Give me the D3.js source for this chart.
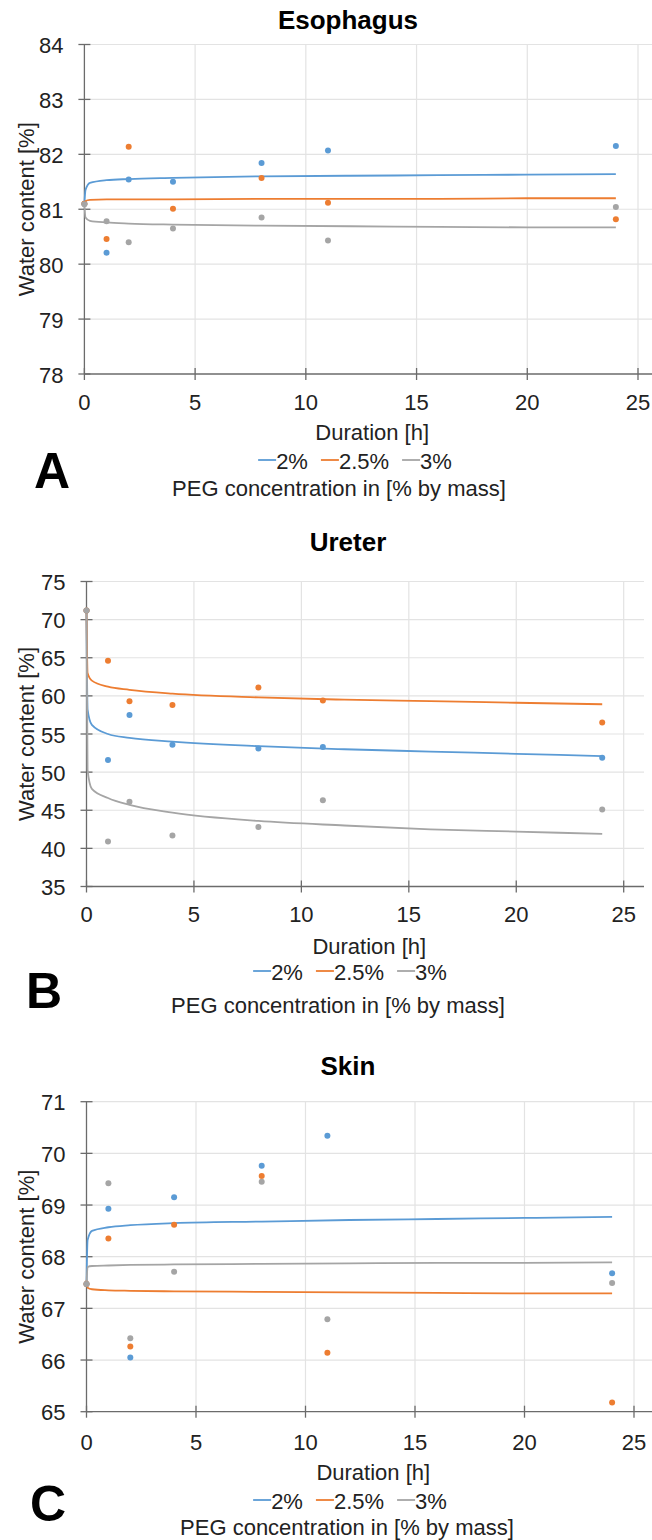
<!DOCTYPE html>
<html>
<head>
<meta charset="utf-8">
<script src="https://cdn.jsdelivr.net/npm/d3@7"></script>
<style>
  body { margin: 0; background: #fff; }
  svg { display: block; font-family: "Liberation Sans", Arial, sans-serif; }
</style>
</head>
<body>
<script>
// DATA
var hours = [0, 1, 2, 4, 8, 11, 24];
var hourTicks = [0, 5, 10, 15, 20, 25];
var fitHours = [0, 0.05, 0.25, 1, 2, 4, 8, 12, 16, 20, 24];
var seriesNames = ["2%", "2.5%", "3%"];
var colors = ["#5b9bd5", "#ed7d31", "#a5a5a5"];

// Esophagus
var esoTicks = [78, 79, 80, 81, 82, 83, 84];
var eso2 = [81.1, 80.21, 81.54, 81.5, 81.84, 82.07, 82.15];
var eso25 = [81.1, 80.46, 82.14, 81.01, 81.57, 81.12, 80.82];
var eso3 = [81.09, 80.78, 80.4, 80.65, 80.85, 80.43, 81.04];
var esoFit2 = [81.1, 81.35, 81.48, 81.53, 81.55, 81.57, 81.6, 81.61, 81.62, 81.63, 81.64];
var esoFit25 = [81.1, 81.15, 81.17, 81.18, 81.18, 81.18, 81.19, 81.19, 81.19, 81.2, 81.2];
var esoFit3 = [81.1, 80.85, 80.79, 80.76, 80.74, 80.72, 80.7, 80.69, 80.68, 80.67, 80.67];

// Ureter
var ureTicks = [35, 40, 45, 50, 55, 60, 65, 70, 75];
var ure2 = [71.2, 51.6, 57.5, 53.6, 53.1, 53.3, 51.9];
var ure25 = [71.2, 64.6, 59.3, 58.8, 61.1, 59.4, 56.5];
var ure3 = [71.2, 40.9, 46.1, 41.7, 42.8, 46.3, 45.1];
var ureFit2 = [71.2, 58.2, 56.2, 55.0, 54.5, 54.0, 53.4, 53.0, 52.7, 52.4, 52.1];
var ureFit25 = [71.2, 63.0, 62.0, 61.2, 60.8, 60.3, 59.8, 59.5, 59.3, 59.1, 58.9];
var ureFit3 = [71.2, 50.3, 47.8, 46.6, 45.7, 44.7, 43.6, 43.0, 42.5, 42.2, 41.9];

// Skin
var skinTicks = [65, 66, 67, 68, 69, 70, 71];
var skin2 = [67.47, 68.93, 66.05, 69.15, 69.76, 70.34, 67.68];
var skin25 = [67.47, 68.35, 66.26, 68.62, 69.56, 66.14, 65.18];
var skin3 = [67.47, 69.42, 66.42, 67.71, 69.45, 66.79, 67.49];
var skinFit2 = [67.47, 68.32, 68.5, 68.57, 68.61, 68.65, 68.68, 68.71, 68.73, 68.75, 68.77];
var skinFit25 = [67.55, 67.4, 67.37, 67.35, 67.34, 67.33, 67.32, 67.31, 67.3, 67.29, 67.29];
var skinFit3 = [67.47, 67.8, 67.82, 67.83, 67.84, 67.85, 67.86, 67.87, 67.88, 67.88, 67.89];

// SETUP
var width = 652, height = 1540;
var svg = d3.select("body").append("svg")
    .attr("width", width)
    .attr("height", height);

var panels = [
  { title: "Esophagus", letter: "A", ticks: esoTicks,
    points: [eso2, eso25, eso3], fits: [esoFit2, esoFit25, esoFit3],
    x0: 84.4, x25: 638, xEdge: 652, yTop: 44.5, yBot: 374,
    titleY: 29, tickY: 410, durY: 440, legY: 469, pegY: 496, pegX: 339,
    letterX: 52, letterY: 488, legCx: 355 },
  { title: "Ureter", letter: "B", ticks: ureTicks,
    points: [ure2, ure25, ure3], fits: [ureFit2, ureFit25, ureFit3],
    x0: 86.5, x25: 623.7, xEdge: 644, yTop: 581.5, yBot: 886.5,
    titleY: 551, tickY: 922, durY: 954, legY: 980, pegY: 1013, pegX: 338,
    letterX: 44, letterY: 1008, legCx: 350 },
  { title: "Skin", letter: "C", ticks: skinTicks,
    points: [skin2, skin25, skin3], fits: [skinFit2, skinFit25, skinFit3],
    x0: 86.5, x25: 634, xEdge: 652, yTop: 1101.7, yBot: 1411.7,
    titleY: 1075, tickY: 1450, durY: 1480, legY: 1509, pegY: 1535, pegX: 347,
    letterX: 48, letterY: 1521, legCx: 350 }
];

var fs = 22;

panels.forEach(function(p) {
  var x = d3.scaleLinear().domain([0, 25]).range([p.x0, p.x25]);
  var y = d3.scaleLinear().domain(d3.extent(p.ticks)).range([p.yBot, p.yTop]);
  var g = svg.append("g");

  // gridlines
  g.selectAll(".hgrid").data(p.ticks.slice(1)).enter().append("line")
      .attr("x1", p.x0).attr("x2", p.xEdge)
      .attr("y1", function(d) { return y(d); }).attr("y2", function(d) { return y(d); })
      .attr("stroke", "#e3e3e3").attr("stroke-width", 1.2);
  g.selectAll(".vgrid").data(hourTicks.slice(1)).enter().append("line")
      .attr("x1", function(d) { return x(d); }).attr("x2", function(d) { return x(d); })
      .attr("y1", p.yTop).attr("y2", p.yBot)
      .attr("stroke", "#e3e3e3").attr("stroke-width", 1.2);

  // axes
  var axisColor = "#6b6b6b";
  g.append("line").attr("x1", p.x0).attr("x2", p.x0).attr("y1", p.yTop).attr("y2", p.yBot)
      .attr("stroke", axisColor).attr("stroke-width", 1.3);
  g.append("line").attr("x1", p.x0).attr("x2", p.xEdge).attr("y1", p.yBot).attr("y2", p.yBot)
      .attr("stroke", axisColor).attr("stroke-width", 1.3);
  g.selectAll(".ytick").data(p.ticks).enter().append("line")
      .attr("x1", p.x0 - 6).attr("x2", p.x0 + 6)
      .attr("y1", function(d) { return y(d); }).attr("y2", function(d) { return y(d); })
      .attr("stroke", axisColor).attr("stroke-width", 1.3);
  g.selectAll(".xtick").data(hourTicks).enter().append("line")
      .attr("x1", function(d) { return x(d); }).attr("x2", function(d) { return x(d); })
      .attr("y1", p.yBot - 6).attr("y2", p.yBot + 6)
      .attr("stroke", axisColor).attr("stroke-width", 1.3);

  // tick labels
  g.selectAll(".ylab").data(p.ticks).enter().append("text")
      .attr("x", p.x0 - 21).attr("y", function(d) { return y(d) + 8.5; })
      .attr("text-anchor", "end").attr("font-size", fs).attr("fill", "#222")
      .text(function(d) { return d; });
  g.selectAll(".xlab").data(hourTicks).enter().append("text")
      .attr("x", function(d) { return x(d); }).attr("y", p.tickY)
      .attr("text-anchor", "middle").attr("font-size", fs).attr("fill", "#222")
      .text(function(d) { return d; });

  // titles
  g.append("text").attr("x", 348).attr("y", p.titleY)
      .attr("text-anchor", "middle").attr("font-size", 26).attr("font-weight", "bold")
      .attr("fill", "#000").text(p.title);
  g.append("text")
      .attr("transform", "translate(34," + ((p.yTop + p.yBot) / 2) + ") rotate(-90)")
      .attr("text-anchor", "middle").attr("font-size", fs).attr("fill", "#222")
      .text("Water content [%]");
  g.append("text").attr("x", (p.x0 + p.xEdge) / 2 + 4).attr("y", p.durY)
      .attr("text-anchor", "middle").attr("font-size", fs).attr("fill", "#222")
      .text("Duration [h]");
  g.append("text").attr("x", p.pegX).attr("y", p.pegY)
      .attr("text-anchor", "middle").attr("font-size", fs).attr("fill", "#222")
      .text("PEG concentration in [% by mass]");
  g.append("text").attr("x", p.letterX).attr("y", p.letterY)
      .attr("text-anchor", "middle").attr("font-size", 50).attr("font-weight", "bold")
      .attr("fill", "#000").text(p.letter);

  // fit curves
  var line = d3.line()
      .x(function(d, i) { return x(fitHours[i]); })
      .y(function(d) { return y(d); })
      .curve(d3.curveMonotoneX);
  p.fits.forEach(function(f, k) {
    g.append("path").attr("d", line(f)).attr("fill", "none")
        .attr("stroke", colors[k]).attr("stroke-width", 1.8);
  });

  // points
  p.points.forEach(function(s, k) {
    g.selectAll(".pt" + k).data(s).enter().append("circle")
        .attr("cx", function(d, i) { return x(hours[i]); })
        .attr("cy", function(d) { return y(d); })
        .attr("r", 3).attr("fill", colors[k]);
  });

  // legend
  var leg = g.append("g");
  var cx = 0;
  seriesNames.forEach(function(name, k) {
    leg.append("line").attr("x1", cx).attr("x2", cx + 18)
        .attr("y1", -9).attr("y2", -9)
        .attr("stroke", colors[k]).attr("stroke-width", 1.8);
    var t = leg.append("text").attr("x", cx + 18).attr("y", 0)
        .attr("font-size", fs).attr("fill", "#222").text(name);
    cx += 18 + t.node().getComputedTextLength() + 13;
  });
  var legW = cx - 13;
  leg.attr("transform", "translate(" + (p.legCx - legW / 2) + "," + p.legY + ")");
});
</script>
</body>
</html>
